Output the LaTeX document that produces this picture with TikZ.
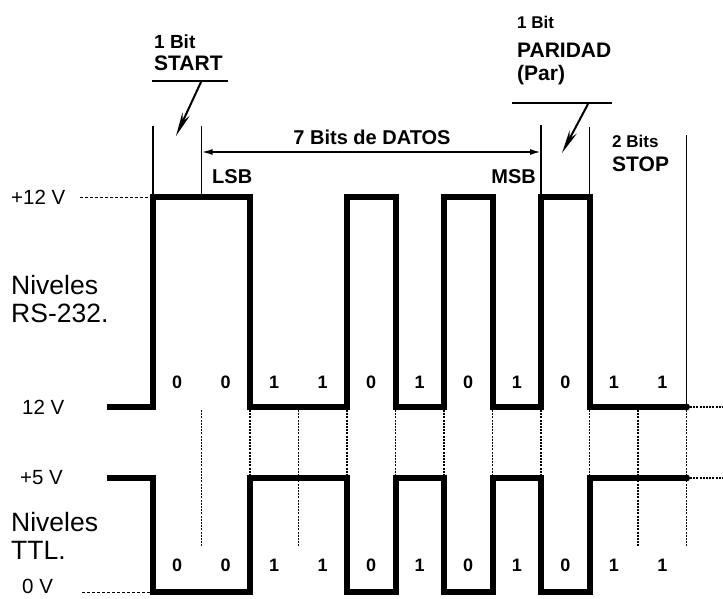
\documentclass[tikz,border=0pt]{standalone}
\usepackage{fontspec}
\setmainfont{Liberation Sans}
\usetikzlibrary{arrows.meta}
\begin{document}
\begin{tikzpicture}[x=1pt,y=-1pt,
  wave/.style={line width=6pt, line join=miter, line cap=butt},
  thinline/.style={line width=1.4pt},
  dotline/.style={line width=1.4pt, dash pattern=on 2pt off 1.2pt},
  toplbl/.style={inner sep=0pt, anchor=west, font=\fontsize{21}{23}\selectfont\bfseries},
  side/.style={inner sep=0pt, anchor=west, font=\fontsize{20.5}{22}\selectfont},
  big/.style={inner sep=0pt, anchor=west, align=left, font=\fontsize{26.5}{28}\selectfont},
  digit/.style={inner sep=0pt, font=\fontsize{18}{20}\selectfont\bfseries},
  ptr/.style={line width=2pt, -{Stealth[length=24pt,width=8pt]}},
  dim/.style={line width=1.8pt, {Latex[length=11pt,width=6pt]}-{Latex[length=11pt,width=6pt]}},
]
\useasboundingbox (0,0) rectangle (723,599);

% left labels
\node[side] (p12) at (11,197) {+12 V};
\node[big] (rs) at (11,299) {Niveles\\RS-232.};
\node[side] (m12) at (22,407) {12 V};
\node[side] (p5) at (20,478) {+5 V};
\node[big] (ttl) at (11,536) {Niveles\\TTL.};
\node[side] (z0) at (22,586) {0 V};
\coordinate (p12a) at (80,197); \coordinate (p12b) at (150,197);
\coordinate (z0a) at (82,592); \coordinate (z0b) at (150,592);
\draw[line width=1pt, dash pattern=on 3pt off 2pt] (p12a) -- (p12b);
\draw[line width=1pt, dash pattern=on 3pt off 2pt] (z0a) -- (z0b);

% dotted guide lines
\foreach \x/\y in {201.5/547, 250/476, 298.5/547, 347/476, 395.5/476, 444/476, 492.5/476, 541/476, 589.5/476, 638/547, 686.5/547}
  \draw[dotline] (\x,410) -- (\x,\y);
\draw[dotline] (690,407) -- (723,407);
\draw[dotline] (690,478) -- (723,478);

% RS-232 waveform
\draw[wave] (107,407) -- (153,407) -- (153,197) -- (250,197) -- (250,407) -- (347,407) -- (347,197) -- (395.5,197) -- (395.5,407) -- (444,407) -- (444,197) -- (492.5,197) -- (492.5,407) -- (541,407) -- (541,197) -- (589.5,197) -- (589.5,407) -- (686.5,407);
% TTL waveform
\draw[wave] (107,478) -- (153,478) -- (153,592) -- (250,592) -- (250,478) -- (347,478) -- (347,592) -- (395.5,592) -- (395.5,478) -- (444,478) -- (444,592) -- (492.5,592) -- (492.5,478) -- (541,478) -- (541,592) -- (589.5,592) -- (589.5,478) -- (686.5,478);
\fill (686.5,407) circle (3.5pt);
\fill (686.5,478) circle (3.5pt);

% top boundary lines
\draw[thinline] (153,126) -- (153,197);
\draw[thinline] (201.5,126) -- (201.5,197);
\draw[line width=2pt] (541,125) -- (541,197);
\draw[thinline] (589.5,127) -- (589.5,197);
\draw[thinline] (686.5,135) -- (686.5,407);

% data dimension
\coordinate (dl) at (201.5,152); \coordinate (dr) at (541,152);
\draw[dim] (dl) -- (dr);
\node[inner sep=0pt, font=\fontsize{20}{22}\selectfont\bfseries] (datos) at (372,137) {7 Bits de DATOS};
\node[toplbl, font=\fontsize{20}{22}\selectfont\bfseries] (lsb) at (212,177) {LSB};
\node[toplbl, font=\fontsize{20}{22}\selectfont\bfseries, anchor=east] (msb) at (536,177) {MSB};

% START label
\node[toplbl, font=\fontsize{19}{21}\selectfont\bfseries] (s1) at (154,42) {1 Bit};
\node[toplbl] (s2) at (154,63) {START};
\draw[line width=2pt] (152,81) -- (228,81);
\coordinate (sa) at (201,82); \coordinate (sb) at (176,136);
\draw[ptr] (sa) -- (sb);

% PARIDAD label
\node[toplbl, font=\fontsize{17}{19}\selectfont\bfseries] (p1) at (517,22) {1 Bit};
\node[toplbl] (p2) at (517,50) {PARIDAD};
\node[toplbl] (p3) at (517,75) {(Par)};
\draw[line width=2pt] (512,103) -- (612,103);
\coordinate (pa) at (588,104); \coordinate (pb) at (562,153);
\draw[ptr] (pa) -- (pb);

% STOP label
\node[toplbl, font=\fontsize{17}{19}\selectfont\bfseries] (t1) at (612,141) {2 Bits};
\node[toplbl] (t2) at (612,164) {STOP};

% bit values
\foreach \x/\b in {177.25/0, 225.75/0, 274.25/1, 322.75/1, 371.25/0, 419.75/1, 468.25/0, 516.75/1, 565.25/0, 613.75/1, 662.25/1} {
  \node[digit] at (\x,382) {\b};
  \node[digit] at (\x,565) {\b};
}
\end{tikzpicture}
\end{document}
